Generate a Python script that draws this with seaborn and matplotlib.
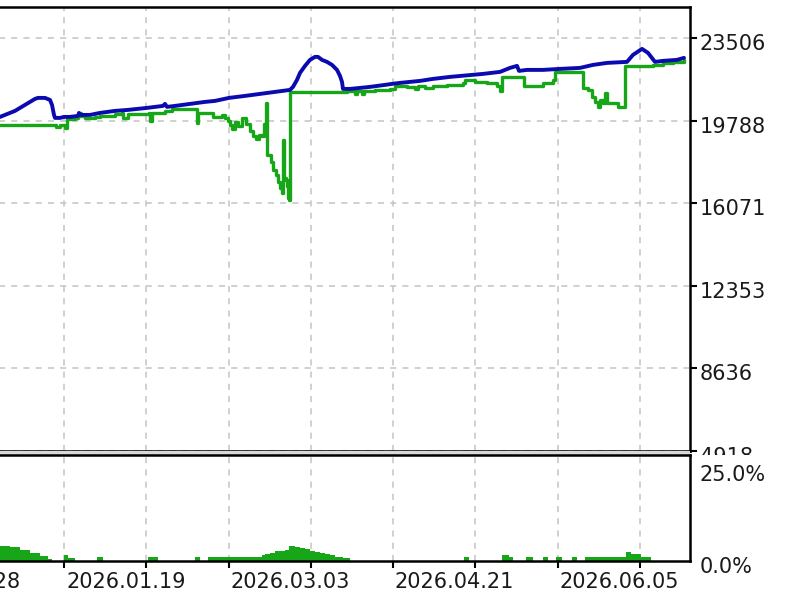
import numpy as np
import pandas as pd
import matplotlib
matplotlib.use("Agg")
import matplotlib.pyplot as plt
import seaborn as sns
from matplotlib.patches import Rectangle
from matplotlib.transforms import ScaledTranslation

# ---------------- data ----------------
balance_pos = [-3, 0, 5, 10, 15, 20, 25, 30, 35, 38, 45, 50, 52, 54, 55, 60, 64, 70, 78, 79, 80, 90,
               100, 115, 128, 147, 163, 165, 167, 175, 190, 205, 215, 229, 245, 260, 275, 290, 293,
               297, 300, 305, 310, 315, 318, 322, 327, 332, 337, 340, 342, 343, 350, 360, 370, 385,
               392, 400, 420, 433, 450, 472, 483, 500, 510, 517, 519, 527, 543, 560, 580, 593, 607,
               627, 633, 642, 648, 655, 663, 677, 684]
balance = [19916, 19961, 20051, 20141, 20232, 20367, 20502, 20637, 20772, 20817, 20817, 20727, 20502,
           20051, 19916, 19916, 19961, 19961, 20006, 20141, 20051, 20051, 20141, 20232, 20277, 20367,
           20457, 20547, 20412, 20457, 20547, 20637, 20682, 20817, 20907, 20997, 21087, 21177, 21313,
           21628, 21943, 22258, 22529, 22664, 22664, 22529, 22439, 22303, 22078, 21808, 21538, 21222,
           21222, 21267, 21313, 21403, 21448, 21493, 21583, 21673, 21763, 21853, 21898, 21988, 22168,
           22258, 22033, 22078, 22078, 22123, 22168, 22303, 22393, 22439, 22754, 23024, 22844, 22439,
           22484, 22529, 22619]

equity_pos = [-3, 0, 55, 56, 58, 60, 64, 65, 66, 67, 70, 75, 78, 80, 81, 85, 95, 100, 115, 122, 123,
              126, 128, 140, 149, 150, 152, 155, 165, 172, 190, 196, 197, 198, 210, 213, 222, 225,
              228, 230, 232, 235, 238, 242, 246, 250, 253, 256, 259, 262, 264, 265, 266, 267, 268,
              271, 273, 276, 278, 280, 282, 283, 284, 286, 287, 288, 289, 290, 347, 355, 357, 362,
              364, 375, 390, 395, 407, 415, 418, 425, 433, 447, 463, 465, 475, 487, 497, 500, 502,
              523, 524, 543, 553, 555, 582, 583, 588, 592, 595, 598, 600, 603, 605, 607, 613, 618,
              623, 625, 653, 663, 673, 684]
equity = [19601, 19601, 19601, 19511, 19511, 19601, 19601, 19466, 19466, 19871, 19871, 19916, 20006,
          20141, 20006, 19916, 19961, 20006, 20096, 20141, 19916, 19916, 20096, 20096, 20141, 19781,
          20141, 20141, 20232, 20322, 20322, 20322, 19691, 20141, 20141, 19961, 20051, 19916, 19781,
          19601, 19421, 19736, 19556, 19916, 19646, 19331, 19106, 18970, 19151, 19106, 19646, 19241,
          20592, 18250, 18250, 17935, 17574, 17349, 17034, 16763, 16538, 18925, 17214, 17124, 16854,
          16313, 16223, 21087, 21132, 20997, 21132, 20997, 21132, 21177, 21222, 21358, 21313, 21222,
          21358, 21267, 21358, 21403, 21493, 21628, 21538, 21493, 21358, 21132, 21763, 21763, 21358,
          21493, 21628, 21988, 21988, 21267, 21177, 20862, 20637, 20412, 20727, 20592, 21042, 20592,
          20592, 20412, 20412, 22258, 22303, 22393, 22439, 22529]

dd_pos = [-3, 0, 10, 20, 30, 40, 48, 52, 64, 68, 75, 97, 103, 148, 158, 195, 200, 208, 262, 265, 270,
          275, 280, 285, 289, 295, 300, 305, 310, 315, 320, 325, 330, 335, 340, 343, 350, 464, 469,
          502, 509, 513, 526, 533, 543, 548, 556, 562, 572, 577, 585, 626, 631, 641, 651, 690]
dd_pct = [4.2, 4.2, 3.7, 3.0, 2.2, 1.3, 0.5, 0.0, 1.5, 0.9, 0.0, 1.0, 0.0, 1.0, 0.0, 1.0, 0.0, 1.0,
          1.5, 2.0, 2.3, 2.6, 2.8, 3.0, 4.2, 3.9, 3.6, 3.2, 2.8, 2.5, 2.2, 1.8, 1.5, 1.2, 1.0, 0.8,
          0.0, 1.0, 0.0, 1.5, 1.0, 0.0, 1.0, 0.0, 1.0, 0.0, 1.0, 0.0, 1.0, 0.0, 1.0, 2.4, 2.0, 1.2,
          0.0, 0.0]

y_ticks = [4918, 8636, 12353, 16071, 19788, 23506]
dd_ticks = [0.0, 25.0]
dd_tick_labels = ["0.0%", "25.0%"]
x_tick_pos = [-100.5, -18.25, 64, 146.25, 228.5, 310.75, 393, 475.25, 557.5, 639.75]
x_tick_labels = ["2025.12.28", "", "2026.01.19", "", "2026.03.03", "", "2026.04.21", "",
                 "2026.06.05", ""]

BLUE = "#0a0ab0"
GREEN = "#17a617"
GRID = "#c4c4c4"

# ---------------- figure ----------------
sns.set_theme(style="white")
plt.rcParams["font.family"] = ["DejaVu Sans"]

fig = plt.figure(figsize=(8, 6), dpi=100)
fig.patch.set_facecolor("white")

W, H = 800.0, 600.0
left_px, right_px = -110.0, 690.0
ax = fig.add_axes([left_px / W, 1 - 451 / H, (right_px - left_px) / W, (451 - 7) / H], zorder=0)
ax2 = fig.add_axes([left_px / W, 1 - 561 / H, (right_px - left_px) / W, (561 - 455) / H], zorder=2)

bal_df = pd.DataFrame({"pos": balance_pos, "value": balance})
eq_df = pd.DataFrame({"pos": equity_pos, "value": equity})
dd_df = pd.DataFrame({"pos": dd_pos, "dd": dd_pct})

sns.lineplot(data=eq_df, x="pos", y="value", ax=ax, color=GREEN, lw=2.4,
             drawstyle="steps-post", estimator=None, sort=False)
sns.lineplot(data=bal_df, x="pos", y="value", ax=ax, color=BLUE, lw=2.8,
             estimator=None, sort=False)

ax2.fill_between(dd_df["pos"], 0, dd_df["dd"], step="post", color=GREEN, lw=0)

for a in (ax, ax2):
    a.set_xlim(left_px, right_px)
    a.set_xticks(x_tick_pos)
    a.grid(True, axis="x", color=GRID, ls=(0, (4, 4)), lw=1.1)
    a.set_xlabel("")
    a.set_ylabel("")
    a.spines["left"].set_visible(False)
    for s in ("top", "right", "bottom"):
        a.spines[s].set_color("black")
        a.spines[s].set_linewidth(1.8)
    a.set_facecolor("white")

ax.set_ylim(4918, 24910)
ax.set_yticks(y_ticks)
ax.set_yticklabels([str(v) for v in y_ticks])
ax.grid(True, axis="y", color=GRID, ls=(0, (4, 4)), lw=1.1)
ax.yaxis.tick_right()
ax.tick_params(axis="y", which="both", right=True, left=False, length=5, width=1.5,
               color="black", labelsize=15, pad=2, labelcolor="#1a1a1a")
ax.tick_params(axis="x", bottom=False, labelbottom=False)

ax2.set_ylim(0, 28.8)
ax2.set_yticks(dd_ticks)
ax2.set_yticklabels(dd_tick_labels)
ax2.yaxis.tick_right()
ax2.tick_params(axis="y", right=False, left=False, length=5, labelsize=15, pad=2,
                labelcolor="#1a1a1a")
ax2.set_xticklabels(x_tick_labels)
ax2.tick_params(axis="x", bottom=True, length=5, width=1.5, color="black",
                labelsize=15, pad=3, labelcolor="#1a1a1a")

for lab in ax2.get_xticklabels():
    lab.set_horizontalalignment("left")
    lab.set_transform(lab.get_transform() + ScaledTranslation(0.02, 0, fig.dpi_scale_trans))

shift = ScaledTranslation(0, -0.04, fig.dpi_scale_trans)
for lab in ax.get_yticklabels() + ax2.get_yticklabels():
    lab.set_transform(lab.get_transform() + shift)

# lower panel hides the bottom of the main panel's last label, as in the terminal
fig.patches.append(Rectangle((0, 0), 1, (H - 455) / H, transform=fig.transFigure,
                             facecolor="white", edgecolor="none", zorder=1))
fig.patches.append(Rectangle((0, 1 - 455 / H), 690 / W, 4 / H, transform=fig.transFigure,
                             facecolor="#d8d8d8", edgecolor="none", zorder=1))

fig.savefig("out.png", dpi=100, facecolor="white")
